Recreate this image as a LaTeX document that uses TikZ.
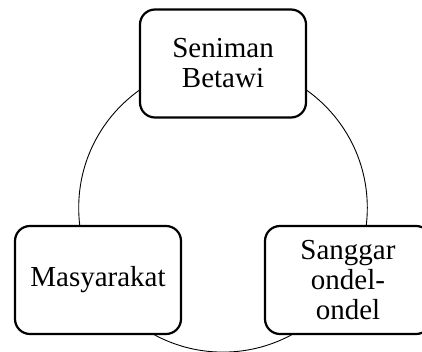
\documentclass[tikz,border=0pt]{standalone}
\usepackage{fontspec}
\setmainfont{Liberation Serif}
\begin{document}
\begin{tikzpicture}[x=1pt,y=-1pt,
  box/.style={draw, line width=2.2pt, rounded corners=15pt, fill=white,
    minimum width=166pt, minimum height=108pt, align=center,
    font=\fontsize{29}{30}\selectfont, inner sep=0pt},
  ring/.style={circle, draw, line width=0.9pt, inner sep=0pt}]
\useasboundingbox (0,0) rectangle (422,352);
\clip (0,0) rectangle (422,352);
\node[ring, minimum size=288.6pt] (c) at (223,207.8) {};
\node[box] (top) at (223,63.5) {Seniman\\Betawi};
\node[box] (left) at (98,280) {Masyarakat};
\node[box] (right) at (348,280) {Sanggar\\ondel-\\ondel};
\end{tikzpicture}
\end{document}
